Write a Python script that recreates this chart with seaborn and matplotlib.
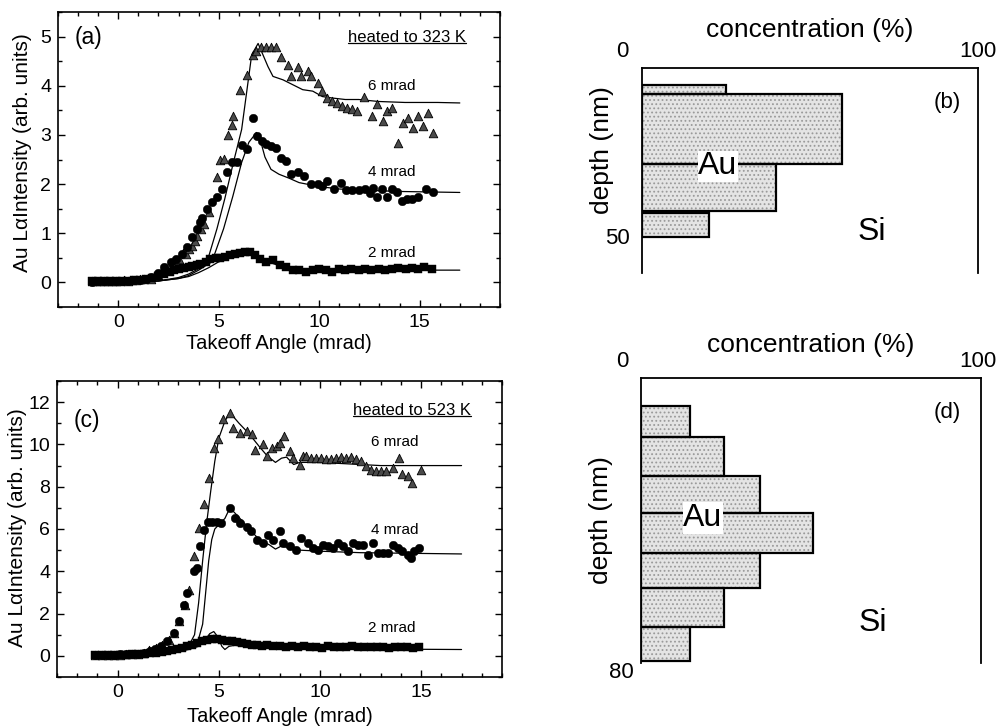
### Au depth profiles from takeoff-angle XRF ###

import numpy as np
import pandas as pd
import matplotlib
matplotlib.use("Agg")
import matplotlib.pyplot as plt
from matplotlib.lines import Line2D
from matplotlib.ticker import MultipleLocator
import seaborn as sns

# ---------------- data: panel (a), heated to 323 K ----------------
a_tri_x = [-1.3, -1.1, -0.9, -0.7, -0.5, -0.3, -0.1, 0.1, 0.3, 0.5, 0.7, 0.9, 1.1, 1.3, 1.64, 1.97,
           2.29, 2.61, 2.8, 3.03, 3.2, 3.35, 3.5, 3.68, 3.8, 3.93, 4.1, 4.26, 4.5, 4.91, 5.07, 5.24,
           5.48, 5.65, 5.73, 6.06, 6.39, 6.69, 6.85, 7.1, 7.37, 7.62, 7.86, 8.11, 8.44, 8.6, 8.93,
           9.1, 9.42, 9.59, 9.92, 10.16, 10.41, 10.66, 10.9, 11.15, 11.4, 11.64, 11.89, 12.22,
           12.63, 12.9, 13.2, 13.36, 13.6, 13.94, 14.19, 14.43, 14.68, 14.93, 15.17, 15.42, 15.67]
a_tri_y = [0.02, 0.02, 0.03, 0.02, 0.03, 0.02, 0.03, 0.03, 0.04, 0.03, 0.05, 0.05, 0.06, 0.07, 0.08, 0.15,
           0.25, 0.35, 0.45, 0.48, 0.6, 0.58, 0.68, 0.75, 0.85, 0.95, 1.08, 1.19, 1.44, 2.14, 2.5, 2.52,
           2.99, 3.21, 3.39, 3.92, 4.22, 4.63, 4.7, 4.78, 4.79, 4.79, 4.79, 4.59, 4.42, 4.19, 4.39,
           4.19, 4.29, 4.19, 4.05, 3.89, 3.75, 3.68, 3.65, 3.58, 3.55, 3.52, 3.48, 3.78,
           3.38, 3.62, 3.28, 3.48, 3.55, 2.84, 3.24, 3.35, 3.14, 3.38, 3.18, 3.45, 3.04]

a_cir_x = [-1.3, -1.0, -0.7, -0.4, -0.1, 0.2, 0.5, 0.8, 1.1, 1.4, 1.64, 1.97, 2.29, 2.61, 2.86, 3.19,
           3.44, 3.68, 3.93, 4.09, 4.17, 4.42, 4.66, 4.91, 5.15, 5.4, 5.65, 5.9, 6.14, 6.42, 6.69,
           6.88, 7.13, 7.37, 7.62, 7.86, 8.11, 8.36, 8.6, 8.93, 9.26, 9.59, 9.92, 10.16, 10.41, 10.74,
           11.07, 11.31, 11.64, 11.97, 12.3, 12.55, 12.7, 12.87, 13.12, 13.36, 13.6, 13.85, 14.1,
           14.35, 14.6, 14.93, 15.33, 15.67]
a_cir_y = [0.01, 0.02, 0.02, 0.02, 0.03, 0.03, 0.03, 0.04, 0.05, 0.07, 0.11, 0.2, 0.32, 0.41, 0.48, 0.58,
           0.72, 0.92, 1.09, 1.22, 1.32, 1.49, 1.63, 1.73, 1.91, 2.24, 2.44, 2.44, 2.79, 2.71, 3.34,
           2.98, 2.88, 2.81, 2.77, 2.74, 2.54, 2.47, 2.2, 2.24, 2.17, 2.0, 2.0, 1.96, 2.07, 1.9,
           2.03, 1.87, 1.87, 1.87, 1.9, 1.81, 1.93, 1.73, 1.9, 1.73, 1.9, 1.83, 1.66,
           1.7, 1.7, 1.73, 1.9, 1.83]

a_sq_x = [-1.3, -1.0, -0.7, -0.4, -0.1, 0.2, 0.5, 0.8, 1.1, 1.4, 1.7, 2.0, 2.3, 2.55, 2.78, 3.0, 3.27,
          3.5, 3.68, 3.9, 4.09, 4.35, 4.59, 4.85, 5.07, 5.3, 5.55, 5.8, 6.06, 6.3, 6.55, 6.8, 7.04,
          7.37, 7.7, 8.03, 8.36, 8.69, 9.02, 9.35, 9.68, 10.0, 10.33, 10.66, 11.0, 11.3, 11.6, 12.0,
          12.3, 12.6, 13.0, 13.3, 13.6, 13.9, 14.3, 14.6, 14.9, 15.2, 15.6]
a_sq_y = [0.02, 0.02, 0.02, 0.02, 0.02, 0.03, 0.03, 0.04, 0.05, 0.07, 0.1, 0.14, 0.18, 0.22, 0.25, 0.28, 0.3,
          0.32, 0.34, 0.36, 0.38, 0.42, 0.48, 0.5, 0.5, 0.52, 0.55, 0.58, 0.6, 0.62, 0.62, 0.55, 0.48,
          0.42, 0.45, 0.35, 0.32, 0.25, 0.25, 0.21, 0.25, 0.28, 0.25, 0.21, 0.28, 0.25, 0.28, 0.25,
          0.28, 0.25, 0.28, 0.25, 0.28, 0.29, 0.28, 0.29, 0.28, 0.32, 0.28]

# calculated curves (a)
a_fit6_x = [-1.3, 1.0, 2.0, 3.0, 3.5, 4.0, 4.42, 4.91, 5.3, 5.73, 6.14, 6.4, 6.64, 6.96, 7.2, 7.45,
            7.7, 8.2, 8.69, 9.18, 9.68, 10.16, 10.66, 11.3, 11.97, 12.95, 14.27, 15.9, 17.0]
a_fit6_y = [0.0, 0.01, 0.03, 0.1, 0.17, 0.28, 0.42, 1.09, 1.7, 2.44, 3.11, 3.9, 4.63, 4.86, 4.63, 4.39,
            4.19, 4.12, 4.02, 3.92, 3.89, 3.78, 3.75, 3.72, 3.72, 3.68, 3.66, 3.66, 3.65]
a_fit4_x = [-1.3, 1.0, 2.0, 3.0, 3.5, 4.0, 4.66, 5.24, 5.7, 6.14, 6.5, 6.88, 7.1, 7.3, 7.6, 8.0,
            8.5, 9.0, 10.0, 11.0, 12.0, 14.0, 17.0]
a_fit4_y = [0.0, 0.01, 0.03, 0.08, 0.14, 0.25, 0.42, 1.09, 1.75, 2.44, 2.85, 3.05, 2.85, 2.55, 2.3, 2.2,
            2.12, 2.03, 1.95, 1.9, 1.88, 1.85, 1.83]
a_fit2_x = [-1.3, 1.0, 2.0, 3.0, 3.5, 4.0, 4.5, 5.0, 5.5, 6.0, 6.4, 6.8, 7.2, 7.6, 8.0, 8.5, 9.0,
            10.0, 12.0, 14.0, 17.0]
a_fit2_y = [0.0, 0.01, 0.03, 0.08, 0.12, 0.2, 0.3, 0.42, 0.52, 0.6, 0.64, 0.58, 0.48, 0.4, 0.34, 0.3,
            0.28, 0.27, 0.26, 0.25, 0.25]

# ---------------- data: panel (c), heated to 523 K ----------------
c_tri_x = [-1.1, -0.8, -0.5, -0.2, 0.1, 0.4, 0.7, 1.0, 1.3, 1.55, 1.88, 2.2, 2.53, 2.77, 3.02, 3.35,
           3.51, 3.76, 4.0, 4.25, 4.49, 4.74, 4.98, 5.23, 5.56, 5.72, 6.05, 6.38, 6.63, 6.79, 7.2,
           7.37, 7.62, 7.86, 8.02, 8.2, 8.51, 8.67, 9.0, 9.17, 9.33, 9.58, 9.82, 10.07, 10.31,
           10.56, 10.81, 11.05, 11.3, 11.54, 11.79, 12.03, 12.28, 12.53, 12.77, 13.02, 13.26,
           13.59, 13.92, 14.08, 14.33, 14.57, 14.98]
c_tri_y = [0.05, 0.05, 0.06, 0.05, 0.06, 0.07, 0.08, 0.1, 0.15, 0.28, 0.36, 0.52, 0.76, 1.07, 1.63, 2.42,
           3.13, 4.71, 6.05, 7.16, 8.42, 9.84, 10.24, 11.18, 11.5, 10.79, 10.55, 10.63, 10.47, 9.76, 10.0,
           9.45, 9.84, 9.92, 10.08, 10.39, 9.68, 9.37, 9.05, 9.45, 9.45, 9.37, 9.37, 9.37, 9.29,
           9.32, 9.37, 9.42, 9.37, 9.42, 9.32, 9.21, 8.97, 8.81, 8.74, 8.74, 8.74,
           8.9, 9.37, 8.58, 8.5, 8.18, 8.81]

c_cir_x = [-1.1, -0.8, -0.5, -0.2, 0.1, 0.4, 0.7, 1.0, 1.3, 1.6, 1.85, 2.13, 2.45, 2.77, 3.02, 3.27,
           3.43, 3.76, 3.92, 4.08, 4.25, 4.45, 4.66, 4.9, 5.1, 5.56, 5.8, 6.05, 6.4, 6.6, 6.9, 7.2,
           7.44, 7.69, 8.02, 8.18, 8.51, 8.84, 9.08, 9.41, 9.66, 9.9, 10.15, 10.39, 10.64, 10.89,
           11.13, 11.38, 11.62, 11.87, 12.12, 12.36, 12.61, 12.85, 13.1, 13.35, 13.59, 13.84,
           14.08, 14.33, 14.49, 14.66, 14.9]
c_cir_y = [0.05, 0.05, 0.06, 0.06, 0.07, 0.07, 0.08, 0.1, 0.14, 0.22, 0.32, 0.45, 0.68, 1.07, 1.63, 2.42,
           2.97, 4.0, 4.15, 5.2, 5.97, 6.32, 6.35, 6.32, 6.3, 7.0, 6.5, 6.3, 6.1, 5.9, 5.5, 5.34,
           5.73, 5.5, 5.89, 5.34, 5.18, 5.02, 5.58, 5.34, 5.1, 5.02, 5.26, 5.18, 5.1, 5.34,
           5.18, 4.94, 5.34, 5.26, 5.26, 4.79, 5.34, 4.86, 4.86, 4.86, 5.26, 5.1,
           4.94, 4.79, 4.63, 4.94, 5.1]

c_sq_x = [-1.1, -0.8, -0.5, -0.2, 0.1, 0.4, 0.7, 1.0, 1.3, 1.6, 1.9, 2.2, 2.45, 2.69, 2.95, 3.19, 3.45,
          3.68, 3.92, 4.17, 4.4, 4.66, 4.9, 5.15, 5.4, 5.64, 5.9, 6.13, 6.4, 6.62, 6.9, 7.11, 7.4,
          7.7, 8.0, 8.3, 8.6, 8.9, 9.2, 9.5, 9.8, 10.1, 10.4, 10.7, 11.0, 11.3, 11.6, 11.9, 12.2,
          12.5, 12.8, 13.1, 13.4, 13.7, 14.0, 14.3, 14.6, 14.9]
c_sq_y = [0.05, 0.05, 0.05, 0.06, 0.06, 0.06, 0.07, 0.08, 0.1, 0.12, 0.15, 0.2, 0.25, 0.3, 0.33, 0.36, 0.45,
          0.52, 0.6, 0.68, 0.74, 0.79, 0.78, 0.76, 0.72, 0.68, 0.64, 0.6, 0.55, 0.52, 0.5, 0.47, 0.5,
          0.45, 0.48, 0.44, 0.46, 0.42, 0.45, 0.42, 0.44, 0.38, 0.45, 0.42, 0.44, 0.4, 0.45, 0.42, 0.4,
          0.44, 0.4, 0.42, 0.38, 0.44, 0.4, 0.42, 0.36, 0.4]

# calculated curves (c)
c_fit6_x = [-1.1, 2.0, 3.0, 3.5, 3.8, 4.0, 4.2, 4.4, 4.6, 4.8, 5.0, 5.3, 5.55, 6.0, 6.5, 7.0, 7.4,
            7.8, 8.1, 8.35, 8.7, 9.0, 10.0, 11.0, 12.0, 13.0, 17.0]
c_fit6_y = [0.05, 0.15, 0.3, 0.45, 1.0, 2.5, 4.5, 6.3, 7.8, 9.2, 10.3, 11.1, 11.5, 11.0, 10.5, 9.9, 9.45,
            9.15, 9.35, 9.4, 9.05, 9.15, 9.15, 9.1, 9.05, 9.0, 9.0]
c_fit4_x = [-1.1, 2.0, 3.0, 3.6, 4.0, 4.2, 4.35, 4.5, 4.65, 4.8, 5.0, 5.3, 5.55, 6.0, 6.5, 7.0, 7.5,
            7.8, 8.1, 8.5, 9.0, 10.0, 12.0, 17.0]
c_fit4_y = [0.05, 0.12, 0.22, 0.35, 0.8, 1.5, 3.0, 4.5, 5.5, 6.0, 6.2, 6.5, 7.0, 6.55, 6.0, 5.5, 5.25,
            5.05, 5.2, 5.1, 5.0, 4.95, 4.88, 4.82]
c_fit2_x = [-1.1, 2.0, 3.0, 3.5, 4.0, 4.3, 4.55, 4.75, 4.95, 5.15, 5.3, 5.5, 5.8, 6.5, 8.0, 10.0,
            13.0, 17.0]
c_fit2_y = [0.05, 0.1, 0.2, 0.3, 0.45, 0.7, 1.05, 1.15, 0.9, 0.45, 0.3, 0.45, 0.5, 0.42, 0.38, 0.35,
            0.32, 0.3]

# ---------------- data: depth profiles (b) and (d) ----------------
b_top = [5.0, 7.5, 28.0, 42.5]
b_bottom = [7.5, 28.0, 42.0, 49.5]
b_conc = [25.0, 59.5, 40.0, 20.0]

d_top = [8.0, 16.5, 27.5, 38.0, 49.0, 59.0, 70.0]
d_bottom = [16.5, 27.5, 38.0, 49.0, 59.0, 70.0, 79.5]
d_conc = [14.5, 24.5, 35.0, 50.5, 35.0, 24.5, 14.5]

# ---------------- style ----------------
sns.set_theme(style="ticks")
plt.rcParams["font.family"] = ["Liberation Sans", "DejaVu Sans"]
plt.rcParams["hatch.linewidth"] = 0.8
for key in ["text.color", "axes.labelcolor", "xtick.color", "ytick.color", "axes.edgecolor"]:
    plt.rcParams[key] = "black"

fig = plt.figure(figsize=(10.02, 7.26), dpi=100)
ax_a = fig.add_axes([0.0579, 0.5771, 0.4411, 0.4064])
ax_c = fig.add_axes([0.0569, 0.0675, 0.4441, 0.4077])
ax_b = fig.add_axes([0.6407, 0.6240, 0.3353, 0.2824])
ax_d = fig.add_axes([0.6397, 0.0868, 0.3393, 0.3926])


def scan_panel(ax, tri, cir, sq, fits, ylim, ymaj, ymin, tag, heat, lbl_y, xlab_y, ylab_x, ylab_y):
    df_tri = pd.DataFrame({"x": tri[0], "y": tri[1]})
    df_cir = pd.DataFrame({"x": cir[0], "y": cir[1]})
    df_sq = pd.DataFrame({"x": sq[0], "y": sq[1]})
    for fx, fy in fits:
        sns.lineplot(x=fx, y=fy, sort=False, estimator=None, color="black", lw=0.9, ax=ax)
    sns.scatterplot(data=df_tri, x="x", y="y", marker="^", s=38, color="#4a4a4a",
                    edgecolor="black", linewidth=0.6, ax=ax, zorder=3)
    sns.scatterplot(data=df_cir, x="x", y="y", marker="o", s=38, color="black",
                    edgecolor="black", linewidth=0.3, ax=ax, zorder=3)
    sns.scatterplot(data=df_sq, x="x", y="y", marker="s", s=26, color="black",
                    edgecolor="black", linewidth=0.3, ax=ax, zorder=3)

    ax.set_xlim(-3, 19)
    ax.set_ylim(*ylim)
    ax.xaxis.set_major_locator(MultipleLocator(5))
    ax.xaxis.set_minor_locator(MultipleLocator(1))
    ax.yaxis.set_major_locator(MultipleLocator(ymaj))
    ax.yaxis.set_minor_locator(MultipleLocator(ymin))
    ax.tick_params(which="both", direction="in", top=True, right=True, width=1.0, labelsize=14)
    ax.tick_params(which="major", length=5, pad=5)
    ax.tick_params(which="minor", length=3)
    for sp in ax.spines.values():
        sp.set_linewidth(1.2)
        sp.set_color("black")

    ax.set_xlabel("Takeoff Angle (mrad)", fontsize=14.5, va="center")
    ax.xaxis.set_label_coords(0.5, xlab_y)
    ax.set_ylabel("Au LαIntensity (arb. units)", fontsize=15, va="center")
    ax.yaxis.set_label_coords(ylab_x, ylab_y)

    ax.text(tag[1], tag[2], tag[0], transform=ax.transAxes, fontsize=16.5,
            ha="center", va="center")
    heat_txt = ax.text(heat[1], heat[2], heat[0], transform=ax.transAxes, fontsize=12,
                       ha="center", va="center")
    for name, (lx, ly) in zip(["6 mrad", "4 mrad", "2 mrad"], lbl_y):
        ax.text(lx, ly, name, fontsize=11, ha="center", va="center")
    return heat_txt


heat_a = scan_panel(ax_a, (a_tri_x, a_tri_y), (a_cir_x, a_cir_y), (a_sq_x, a_sq_y),
                    [(a_fit6_x, a_fit6_y), (a_fit4_x, a_fit4_y), (a_fit2_x, a_fit2_y)],
                    (-0.5, 5.5), 1, 0.5, ("(a)", 0.068, 0.912), ("heated to 323 K", 0.79, 0.915),
                    [(13.6, 4.0), (13.6, 2.24), (13.6, 0.59)], -0.125, -0.081, 0.525)
heat_c = scan_panel(ax_c, (c_tri_x, c_tri_y), (c_cir_x, c_cir_y), (c_sq_x, c_sq_y),
                    [(c_fit6_x, c_fit6_y), (c_fit4_x, c_fit4_y), (c_fit2_x, c_fit2_y)],
                    (-1, 13), 2, 1, ("(c)", 0.067, 0.865), ("heated to 523 K", 0.798, 0.902),
                    [(13.7, 10.1), (13.7, 5.97), (13.55, 1.33)], -0.135, -0.089, 0.503)


def depth_panel(ax, top, bottom, conc, depth_max, tag, au_xy, si_xy, lbl_y, ylab_y, tick_txt):
    top = np.array(top)
    bottom = np.array(bottom)
    centers = (top + bottom) / 2
    thick = bottom - top
    ax.barh(centers, conc, height=thick, left=0, color="#e4e4e4", edgecolor="#9a9a9a",
            hatch="....", linewidth=0, zorder=1)
    ax.barh(centers, conc, height=thick, left=0, fill=False, edgecolor="black",
            linewidth=1.6, zorder=2)
    ax.set_xlim(0, 100)
    ax.set_ylim(depth_max, 0)
    ax.set_xticks([])
    ax.set_yticks([])
    ax.spines["bottom"].set_visible(False)
    for side in ["top", "left", "right"]:
        ax.spines[side].set_visible(True)
        ax.spines[side].set_linewidth(1.3)
        ax.spines[side].set_color("black")
    ax.set_facecolor("white")

    ax.set_xlabel("concentration (%)", fontsize=19, va="center")
    ax.xaxis.set_label_position("top")
    ax.xaxis.label.set_va("center")
    ax.xaxis.set_label_coords(0.5, lbl_y)
    ax.set_ylabel("depth (nm)", fontsize=19, va="center")
    ax.yaxis.set_label_coords(-0.119, ylab_y)

    for s, x, y, ha in tick_txt:
        ax.text(x, y, s, fontsize=16, ha=ha, va="center", clip_on=False)
    ax.text(tag[1], tag[2], tag[0], fontsize=16, ha="center", va="center")
    ax.text(au_xy[0], au_xy[1], "Au", fontsize=23, ha="center", va="center", zorder=4,
            bbox=dict(facecolor="white", edgecolor="none", pad=0.5))
    ax.text(si_xy[0], si_xy[1], "Si", fontsize=23, ha="center", va="center")


depth_panel(ax_b, b_top, b_bottom, b_conc, 60, ("(b)", 91, 10.2), (22.6, 28.8), (68.5, 48),
            1 + 38 / 205, 0.6,
            [("0", -6.0, -4.7, "center"), ("100", 100, -4.7, "center"), ("50", -3.5, 50, "right")])
depth_panel(ax_d, d_top, d_bottom, d_conc, 80, ("(d)", 90, 9.6), (18.2, 39.3), (68.2, 68.8),
            1 + 33 / 285, 0.5,
            [("0", -5.6, -4.5, "center"), ("100", 99, -4.5, "center"), ("80", -2.2, 82.6, "right")])

# underline the "heated to" notes
fig.canvas.draw()
inv = fig.transFigure.inverted()
for t in [heat_a, heat_c]:
    bb = t.get_window_extent()
    (x0, y0), (x1, _) = inv.transform([(bb.x0, bb.y0 + 2), (bb.x1, bb.y0 + 2)])
    fig.add_artist(Line2D([x0, x1], [y0, y0], color="black", lw=0.9, transform=fig.transFigure))

fig.savefig("out.png", dpi=100)
